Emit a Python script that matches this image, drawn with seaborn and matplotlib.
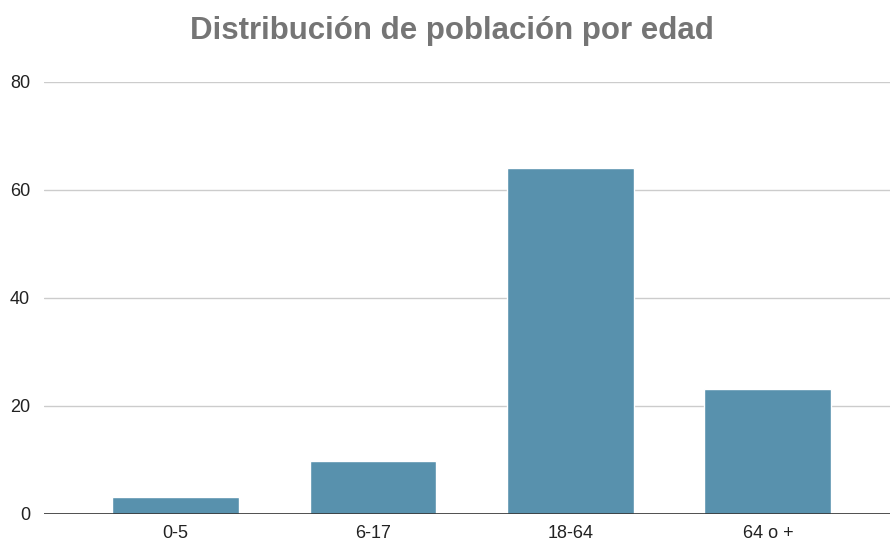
import matplotlib
matplotlib.use("Agg")
import matplotlib.pyplot as plt
import seaborn as sns
import pandas as pd

# datos
grupos = ["0-5", "6-17", "18-64", "64 o +"]
poblacion = [3.1, 9.9, 64.1, 23.1]
y_ticks = [0, 20, 40, 60, 80]

df = pd.DataFrame({"edad": grupos, "valor": poblacion})

sns.set_style("white")
plt.rcParams["font.family"] = ["Liberation Sans", "DejaVu Sans"]

fig = plt.figure(figsize=(8.9, 5.44), dpi=100)
ax = fig.add_axes([44 / 890, 30 / 544, 846 / 890, 432 / 544])

sns.barplot(data=df, x="edad", y="valor", color="#5891ad", width=0.643,
            saturation=1, ax=ax, zorder=3)

ax.set_ylim(0, 80)
ax.set_xlim(-0.666, 3.618)
ax.set_yticks(y_ticks)
ax.set_yticklabels([str(t) for t in y_ticks])
ax.grid(axis="y", color="#cccccc", linewidth=1, zorder=0)
ax.axhline(0, color="#333333", linewidth=1.2, zorder=4)
for s in ax.spines.values():
    s.set_visible(False)
ax.tick_params(axis="both", length=0, labelsize=13, colors="#222222")
ax.tick_params(axis="y", pad=10)
ax.tick_params(axis="x", pad=8)
ax.set_xlabel("")
ax.set_ylabel("")

fig.text(452 / 890, 1 - 31 / 544, "Distribución de población por edad",
         ha="center", va="center", fontsize=22.5, fontweight="bold", color="#757575")

fig.savefig("out.png", dpi=100)
